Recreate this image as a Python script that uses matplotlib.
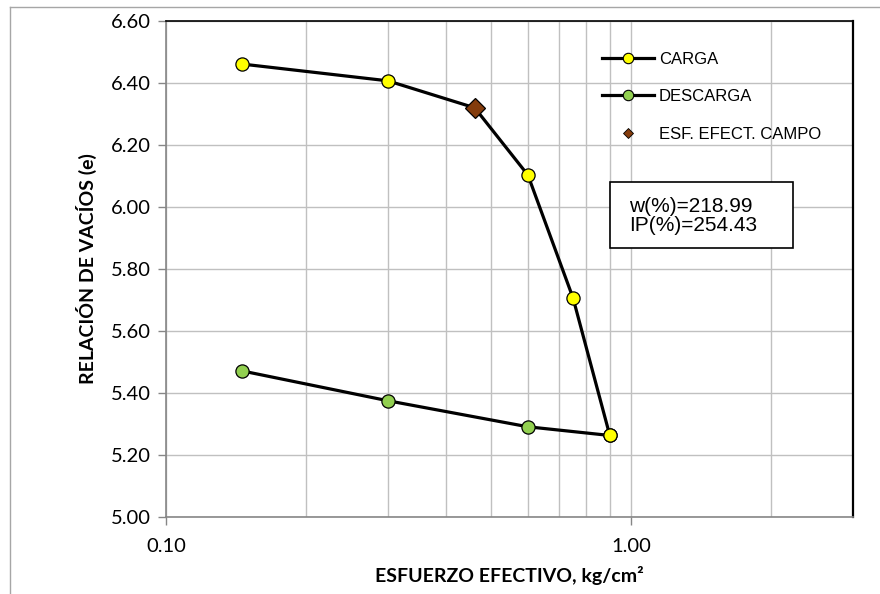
"""Curva de compresibilidad e - log(sigma') : carga / descarga."""
import matplotlib
matplotlib.use("Agg")
import matplotlib.pyplot as plt
from matplotlib.lines import Line2D
from matplotlib.patches import Rectangle
from matplotlib.ticker import FixedLocator, NullFormatter

# --- data --------------------------------------------------------------
carga_x = [0.146, 0.30, 0.461, 0.60, 0.75, 0.90]     # kg/cm2
carga_e = [6.461, 6.407, 6.320, 6.103, 5.707, 5.263]
carga_markers = [0, 1, 3, 4, 5]                      # 0.461 is the field point

descarga_x = [0.90, 0.60, 0.30, 0.146]
descarga_e = [5.263, 5.291, 5.375, 5.471]

campo_x = [0.461]
campo_e = [6.320]

y_ticks = [5.0, 5.2, 5.4, 5.6, 5.8, 6.0, 6.2, 6.4, 6.6]
x_ticks = [0.1, 1.0]
x_minor = [0.2, 0.3, 0.4, 0.5, 0.6, 0.7, 0.8, 0.9, 2.0]
info_text = "w(%)=218.99\nIP(%)=254.43"

W, H = 880, 594
plt.rcParams["font.family"] = ["Lato", "DejaVu Sans"]

fig = plt.figure(figsize=(W / 100, H / 100), dpi=100)
ax = fig.add_axes([166 / W, 1 - 517 / H, (853 - 166) / W, (517 - 21) / H])


def fx(px):
    return px / W


def fy(py):
    return 1 - py / H


# outer chart frame (Excel-like)
fig.add_artist(Line2D([fx(10), fx(10)], [0, fy(7)], transform=fig.transFigure,
                      color="#a6a6a6", lw=1))
fig.add_artist(Line2D([fx(10), 1], [fy(7), fy(7)], transform=fig.transFigure,
                      color="#a6a6a6", lw=1))

ax.set_xscale("log")
ax.set_xlim(0.1, 3.0)
ax.set_ylim(5.0, 6.6)

ax.plot(descarga_x, descarga_e, color="black", lw=2.3, marker="o", ms=9.5,
        mfc="#92D050", mec="black", mew=0.9, zorder=3, label="DESCARGA")
ax.plot(carga_x, carga_e, color="black", lw=2.3, marker="o", ms=9.5,
        markevery=carga_markers, mfc="#FFFF00", mec="black", mew=0.9,
        zorder=4, label="CARGA")
ax.plot(campo_x, campo_e, ls="none", marker="D", ms=10, mfc="#843C0C",
        mec="black", mew=0.9, zorder=5, label="ESF. EFECT. CAMPO")

# axes / grid
ax.xaxis.set_major_locator(FixedLocator(x_ticks))
ax.xaxis.set_minor_locator(FixedLocator(x_minor))
ax.xaxis.set_minor_formatter(NullFormatter())
ax.set_xticklabels([f"{v:.2f}" for v in x_ticks])
ax.set_yticks(y_ticks)
ax.set_yticklabels([f"{v:.2f}" for v in y_ticks])
ax.grid(True, which="both", color="#c0c0c0", lw=1)
ax.set_axisbelow(True)
ax.tick_params(which="major", direction="out", length=6, width=1,
               color="#868686", labelsize=14.5, colors="black")
ax.tick_params(axis="x", which="major", pad=9)
ax.tick_params(axis="y", which="major", pad=5)
ax.tick_params(which="minor", length=0)
for tl in ax.get_xticklabels() + ax.get_yticklabels():
    tl.set_color("black")

for s in ("left", "bottom"):
    ax.spines[s].set_color("#868686")
    ax.spines[s].set_linewidth(1.2)
ax.spines["top"].set_color("black")
ax.spines["top"].set_linewidth(1.2)
ax.spines["right"].set_color("black")
ax.spines["right"].set_linewidth(1.6)

ax.set_xlabel("ESFUERZO EFECTIVO, kg/cm²", fontsize=14, fontweight="bold",
              labelpad=8)
ax.set_ylabel("RELACIÓN DE VACÍOS (e)", fontsize=14, fontweight="bold",
              labelpad=10)

# legend (smaller markers than in the plot, as in the source)
handles = [
    Line2D([], [], color="black", lw=2.3, marker="o", ms=7.5,
           mfc="#FFFF00", mec="black", mew=0.8),
    Line2D([], [], color="black", lw=2.3, marker="o", ms=7.5,
           mfc="#92D050", mec="black", mew=0.8),
    Line2D([], [], ls="none", marker="D", ms=5, mfc="#843C0C",
           mec="black", mew=0.6),
]
ax.legend(handles, ["CARGA", "DESCARGA", "ESF. EFECT. CAMPO"],
          loc="upper left", bbox_to_anchor=(fx(602), fy(52)),
          bbox_transform=fig.transFigure, frameon=False, borderpad=0,
          borderaxespad=0, handlelength=3.1, handletextpad=0.3,
          labelspacing=1.34, prop={"family": "Liberation Sans", "size": 12})

# info box
fig.add_artist(Rectangle((fx(610), fy(248)), (793 - 610) / W, (248 - 182) / H,
                         transform=fig.transFigure, facecolor="white",
                         edgecolor="black", lw=1.2, zorder=6))
fig.text(fx(629), fy(216), info_text, ha="left", va="center",
         family="Liberation Sans", fontsize=15, linespacing=1.05, zorder=7)

fig.savefig("out.png", dpi=100)
